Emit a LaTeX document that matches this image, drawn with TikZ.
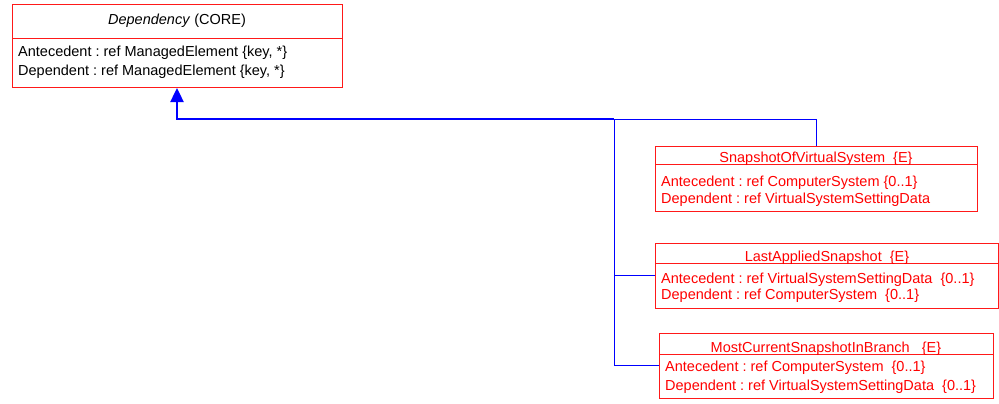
\documentclass[tikz,border=0pt]{standalone}
\usepackage{fontspec}
\setmainfont{Liberation Sans}
\usetikzlibrary{arrows.meta}
\frenchspacing
\begin{document}
\begin{tikzpicture}[x=1pt,y=-1pt,
  box/.style={draw=red!90, line width=1pt, rectangle, inner sep=0pt, outer sep=0pt, anchor=north west},
  sep/.style={draw=red!90, line width=1pt},
  txt/.style={anchor=base west, inner sep=0pt, font=\fontsize{14.5}{18}\selectfont},
  ttl/.style={anchor=base, inner sep=0pt, font=\fontsize{14.5}{18}\selectfont},
  conn/.style={draw=blue, line width=1pt},
  trunk/.style={draw=blue, line width=2.4pt},
  ]
\useasboundingbox (0,0) rectangle (999,404);

% Dependency
\node[box, minimum width=330pt, minimum height=83pt] (dep) at (12,5) {};
\draw[sep] (dep.west |- 0,39) -- (dep.east |- 0,39);
\node[ttl] (depT) at (177,25) {\textit{Dependency} (CORE)};
\node[txt] (depA) at (18,57) {Antecedent : ref ManagedElement \{key, *\}};
\node[txt] (depD) at (18,75) {Dependent : ref ManagedElement \{key, *\}};

% SnapshotOfVirtualSystem
\node[box, minimum width=322pt, minimum height=65pt] (snap) at (655,146) {};
\draw[sep] (snap.west |- 0,164) -- (snap.east |- 0,164);
\node[ttl, text=red] (snapT) at (816,162.5) {SnapshotOfVirtualSystem\ \ \{E\}};
\node[txt, text=red] (snapA) at (661,186) {Antecedent : ref ComputerSystem \{0..1\}};
\node[txt, text=red] (snapD) at (661,203) {Dependent : ref VirtualSystemSettingData};

% LastAppliedSnapshot
\node[box, minimum width=343pt, minimum height=65pt] (last) at (655,243) {};
\draw[sep] (last.west |- 0,263) -- (last.east |- 0,263);
\node[ttl, text=red] (lastT) at (827,261.5) {LastAppliedSnapshot\ \ \{E\}};
\node[txt, text=red] (lastA) at (661,283) {Antecedent : ref VirtualSystemSettingData\ \ \{0..1\}};
\node[txt, text=red] (lastD) at (661,299) {Dependent : ref ComputerSystem\ \ \{0..1\}};

% MostCurrentSnapshotInBranch
\node[box, minimum width=334pt, minimum height=65pt] (most) at (659,333) {};
\draw[sep] (most.west |- 0,354) -- (most.east |- 0,354);
\node[ttl, text=red] (mostT) at (826,352) {MostCurrentSnapshotInBranch\ \ \ \{E\}};
\node[txt, text=red] (mostA) at (665,371.5) {Antecedent : ref ComputerSystem\ \ \{0..1\}};
\node[txt, text=red] (mostD) at (665,390) {Dependent : ref VirtualSystemSettingData\ \ \{0..1\}};

% connectors
\coordinate (j) at (614,119);
\draw[conn] (snap.north) |- (j);
\draw[conn] (last.west) -| (j);
\draw[conn] (most.west) -| (j);
\draw[trunk, -{Triangle[width=13pt,length=14pt]}] (j) -| (dep.south);
\end{tikzpicture}
\end{document}
